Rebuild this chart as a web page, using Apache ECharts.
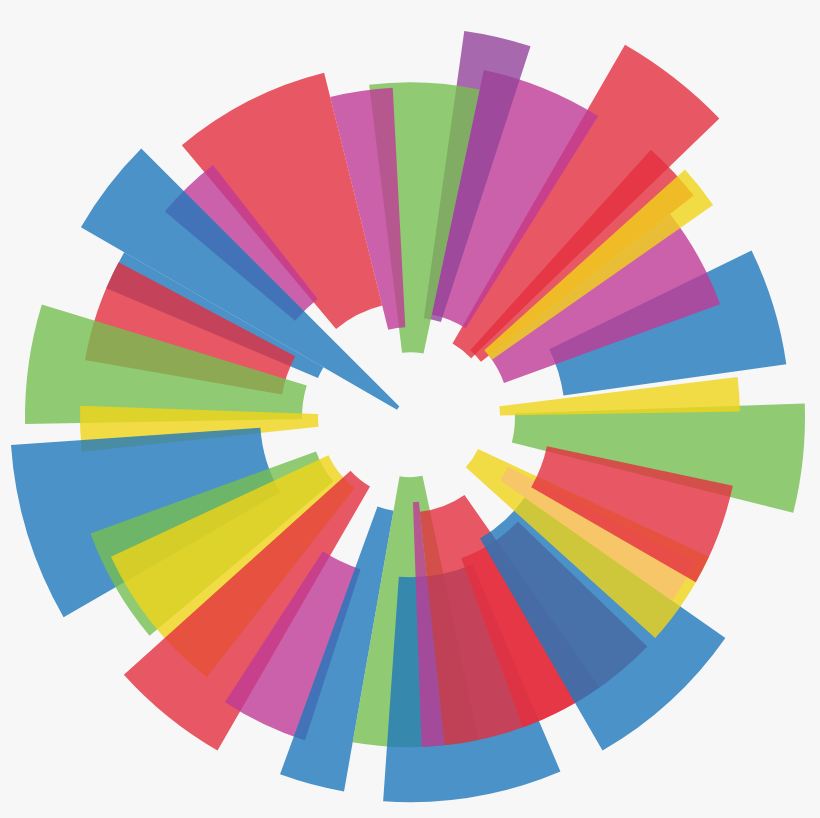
<!DOCTYPE html>
<html>
<head>
<meta charset="utf-8">
<script src="https://cdn.jsdelivr.net/npm/echarts@6/dist/echarts.min.js"></script>
<style>html,body{margin:0;background:#f7f7f7}#chart{width:820px;height:818px}</style>
</head>
<body>
<div id="chart"></div>
<script>
// 每根扇形柱：起止角度(度, 逆时针, 0 = 右)、内外半径、颜色
const angleStart = [-14, 1, 8, 20, 44, 38, 35, 58, 72, 78, 93, 104, 128, 135, 150, 152, 163, 178, 184, 200, 205, 222, 237, 250, 260, 266, 272, 276, 290, 300, 318, 325, 330]
const angleEnd = [2, 7, 26, 38, 60, 48, 42, 78, 82, 97, 104, 130, 140, 150, 157, 170, 181, 186, 210, 220, 232, 240, 252, 260, 282, 293, 276, 305, 316, 325, 335, 333, 348]
const innerR = [105, 90, 155, 100, 85, 90, 100, 105, 100, 65, 90, 115, 150, 15, 100, 130, 108, 92, 150, 100, 90, 80, 160, 95, 60, 160, 85, 95, 150, 140, 75, 110, 140]
const outerR = [395, 330, 380, 330, 430, 360, 370, 355, 390, 335, 330, 355, 320, 380, 330, 330, 385, 330, 400, 340, 330, 385, 340, 380, 330, 385, 330, 330, 330, 385, 330, 320, 330]
const barColor = ['green', 'yellow', 'blue', 'magenta', 'red', 'red', 'yellow', 'magenta', 'purple', 'green', 'magenta', 'red', 'magenta', 'blue', 'blue', 'red', 'green', 'yellow', 'blue', 'green', 'yellow', 'red', 'magenta', 'blue', 'green', 'blue', 'magenta', 'red', 'red', 'blue', 'yellow', 'orange', 'red']

const palette = {
  red: '#e4303e',
  blue: '#1f78bc',
  green: '#76be50',
  yellow: '#f0d418',
  magenta: '#bf3b96',
  purple: '#94439a',
  orange: '#f7c070'
}

const data = angleStart.map((a, i) => [a, angleEnd[i], innerR[i], outerR[i], i])

const chart = echarts.init(document.getElementById('chart'))
chart.setOption({
  backgroundColor: '#f7f7f7',
  animation: false,
  polar: { center: ['50%', '51%'], radius: 420 },
  angleAxis: { type: 'value', min: 0, max: 360, startAngle: 0, clockwise: false, show: false },
  radiusAxis: { type: 'value', min: 0, max: 420, show: false },
  series: [{
    type: 'custom',
    coordinateSystem: 'polar',
    data: data,
    renderItem: function (params, api) {
      const cx = params.coordSys.cx
      const cy = params.coordSys.cy
      const p0 = api.coord([api.value(2), 0])
      const p1 = api.coord([api.value(3), 0])
      const i = api.value(4)
      return {
        type: 'sector',
        shape: {
          cx: cx,
          cy: cy,
          r0: Math.abs(p0[0] - cx),
          r: Math.abs(p1[0] - cx),
          startAngle: -api.value(1) * Math.PI / 180,
          endAngle: -api.value(0) * Math.PI / 180,
          clockwise: true
        },
        style: { fill: palette[barColor[i]], opacity: 0.8 }
      }
    }
  }]
})
</script>
</body>
</html>
